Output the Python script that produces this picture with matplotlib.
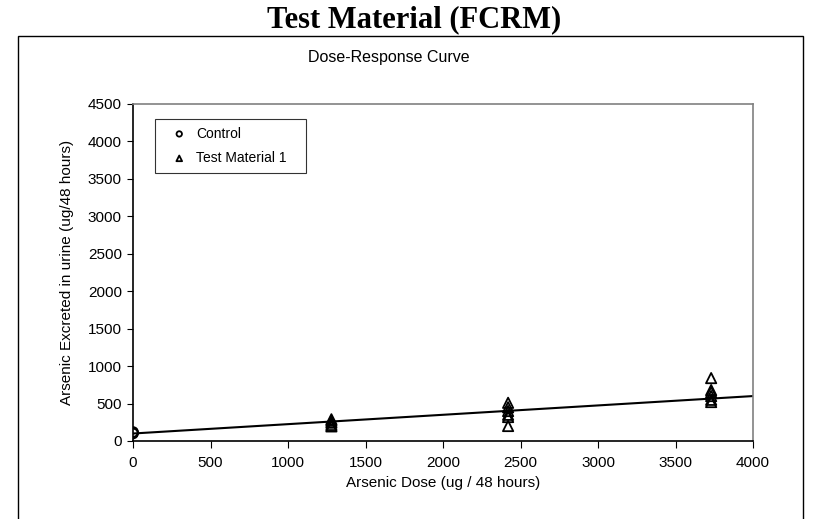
import numpy as np
import matplotlib.pyplot as plt
from matplotlib.patches import Rectangle

control_x = [0, 0, 0]
control_y = [100, 110, 120]
test_x = [1280, 1280, 1280, 1280, 1280,
          2420, 2420, 2420, 2420, 2420, 2420,
          3730, 3730, 3730, 3730, 3730, 3730]
test_y = [195, 215, 245, 270, 290,
          200, 320, 350, 400, 450, 510,
          520, 550, 600, 650, 680, 840]
fit_x = [0, 4000]
fit_y = [100, 600]

W, H = 813, 519
fig = plt.figure(figsize=(W / 100, H / 100), dpi=100)
fig.text(414 / W, 1 - 5 / H, "Test Material (FCRM)", ha="center", va="top",
         fontsize=22, fontweight="bold", family="Liberation Serif")
fig.add_artist(Rectangle((18 / W, -0.01), 785 / W, 1 - 36 / H + 0.01, transform=fig.transFigure,
                         fill=False, edgecolor="black", lw=1))
fig.text(389 / W, 1 - 50 / H, "Dose-Response Curve", ha="center", va="top",
         fontsize=11.5, family="Liberation Sans")

ax = fig.add_axes([133 / W, 1 - 441 / H, 620 / W, 337 / H])
ax.plot(fit_x, fit_y, color="black", lw=1.5, zorder=2)
ax.scatter(control_x, control_y, marker="o", facecolors="none", edgecolors="black",
           s=50, lw=1.3, zorder=3, label="Control")
ax.scatter(test_x, test_y, marker="^", facecolors="none", edgecolors="black",
           s=55, lw=1.3, zorder=3, label="Test Material 1")
ax.set_xlim(0, 4000)
ax.set_ylim(0, 4500)
ax.set_xticks(np.arange(0, 4001, 500))
ax.set_yticks(np.arange(0, 4501, 500))
for s in ["top", "right"]:
    ax.spines[s].set_color("#808080")
    ax.spines[s].set_linewidth(1.2)
for s in ["left", "bottom"]:
    ax.spines[s].set_linewidth(1.2)
ax.tick_params(axis="y", direction="out", length=4, labelsize=11, pad=4)
ax.tick_params(axis="x", direction="out", length=5, labelsize=11, pad=6)
for lab in ax.get_xticklabels() + ax.get_yticklabels():
    lab.set_family("Liberation Sans")
ax.set_xlabel("Arsenic Dose (ug / 48 hours)", fontsize=11, family="Liberation Sans",
              labelpad=4)
ax.set_ylabel("Arsenic Excreted in urine (ug/48 hours)", fontsize=11, family="Liberation Sans",
              labelpad=10)

# legend box: x 148-313, y 112-171 px
bx0 = (148 - 133) / 620
bw = 165 / 620
by1 = (441 - 112) / 337
bh = 59 / 337
leg = ax.legend(loc="upper left", bbox_to_anchor=(bx0, by1 - bh, bw, bh),
                mode="expand", frameon=True, fancybox=False,
                edgecolor="black", handletextpad=0.0, labelspacing=0.75,
                prop={"family": "Liberation Sans", "size": 10}, borderpad=0.55,
                handlelength=2.4, markerscale=0.55)
leg.get_frame().set_linewidth(0.8)
plt.savefig("out.png", dpi=100)
